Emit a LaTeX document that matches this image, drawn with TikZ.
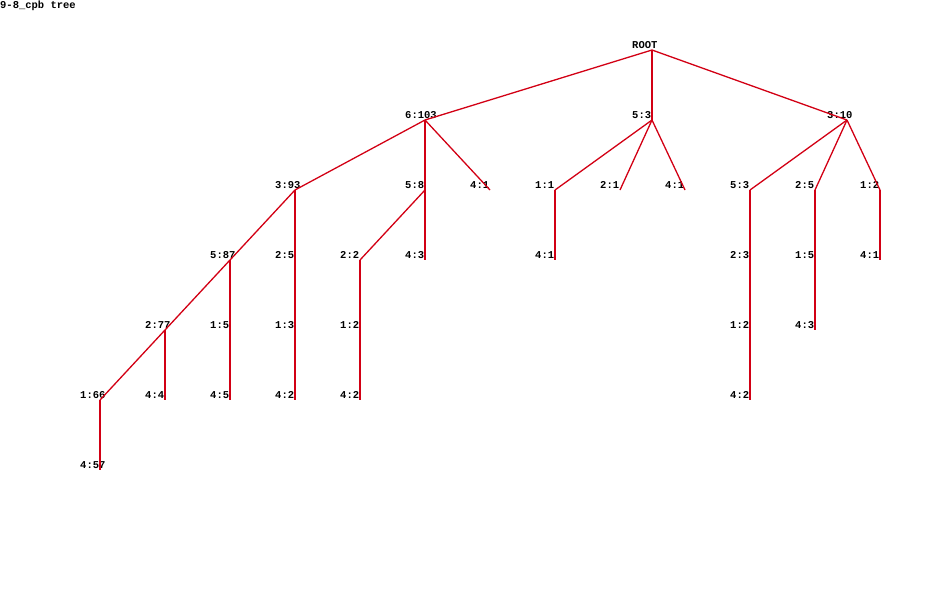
\documentclass[tikz,border=0pt]{standalone}
\usepackage{fontspec}
\newfontfamily\treefont{Liberation Mono}
\definecolor{edgered}{RGB}{210,0,20}
\tikzset{
  lbl/.style={anchor=base west,inner sep=0pt,font=\treefont\bfseries\fontsize{10.5}{10.5}\selectfont},
  edge/.style={draw=edgered,line width=1.3pt}
}
% a tree point: anchor coordinate plus its text label
\newcommand\treenode[4]{%
  \coordinate (#1) at (#2,#3);
  \node[lbl] (#1t) at (#2-20,#3-1.5) {#4};}
\begin{document}
\begin{tikzpicture}[x=1pt,y=-1pt]
\useasboundingbox (0,0) rectangle (945,590);
\node[lbl] (title) at (0,8) {9-8\_cpb tree};

% level 0 and 1
\treenode{R}{652}{50}{ROOT}
\treenode{A}{425}{120}{6:103}
\treenode{B}{652}{120}{5:3}
\treenode{C}{847}{120}{3:10}
% level 2
\treenode{A1}{295}{190}{3:93}
\treenode{A2}{425}{190}{5:8}
\treenode{A3}{490}{190}{4:1}
\treenode{B1}{555}{190}{1:1}
\treenode{B2}{620}{190}{2:1}
\treenode{B3}{685}{190}{4:1}
\treenode{C1}{750}{190}{5:3}
\treenode{C2}{815}{190}{2:5}
\treenode{C3}{880}{190}{1:2}
% level 3
\treenode{A11}{230}{260}{5:87}
\treenode{A12}{295}{260}{2:5}
\treenode{A21}{360}{260}{2:2}
\treenode{A22}{425}{260}{4:3}
\treenode{B11}{555}{260}{4:1}
\treenode{C11}{750}{260}{2:3}
\treenode{C21}{815}{260}{1:5}
\treenode{C31}{880}{260}{4:1}
% level 4
\treenode{A111}{165}{330}{2:77}
\treenode{A112}{230}{330}{1:5}
\treenode{A121}{295}{330}{1:3}
\treenode{A211}{360}{330}{1:2}
\treenode{C111}{750}{330}{1:2}
\treenode{C211}{815}{330}{4:3}
% level 5
\treenode{A1111}{100}{400}{1:66}
\treenode{A1112}{165}{400}{4:4}
\treenode{A1121}{230}{400}{4:5}
\treenode{A1211}{295}{400}{4:2}
\treenode{A2111}{360}{400}{4:2}
\treenode{C1111}{750}{400}{4:2}
% level 6
\treenode{A11111}{100}{470}{4:57}

% edges
\draw[edge] (R) -- (A);
\draw[edge] (R) -- (B);
\draw[edge] (R) -- (C);
\draw[edge] (A) -- (A1);
\draw[edge] (A) -- (A2);
\draw[edge] (A) -- (A3);
\draw[edge] (B) -- (B1);
\draw[edge] (B) -- (B2);
\draw[edge] (B) -- (B3);
\draw[edge] (C) -- (C1);
\draw[edge] (C) -- (C2);
\draw[edge] (C) -- (C3);
\draw[edge] (A1) -- (A11);
\draw[edge] (A1) -- (A12);
\draw[edge] (A2) -- (A21);
\draw[edge] (A2) -- (A22);
\draw[edge] (B1) -- (B11);
\draw[edge] (C1) -- (C11);
\draw[edge] (C2) -- (C21);
\draw[edge] (C3) -- (C31);
\draw[edge] (A11) -- (A111);
\draw[edge] (A11) -- (A112);
\draw[edge] (A12) -- (A121);
\draw[edge] (A21) -- (A211);
\draw[edge] (C11) -- (C111);
\draw[edge] (C21) -- (C211);
\draw[edge] (A111) -- (A1111);
\draw[edge] (A111) -- (A1112);
\draw[edge] (A112) -- (A1121);
\draw[edge] (A121) -- (A1211);
\draw[edge] (A211) -- (A2111);
\draw[edge] (C111) -- (C1111);
\draw[edge] (A1111) -- (A11111);
\end{tikzpicture}
\end{document}
